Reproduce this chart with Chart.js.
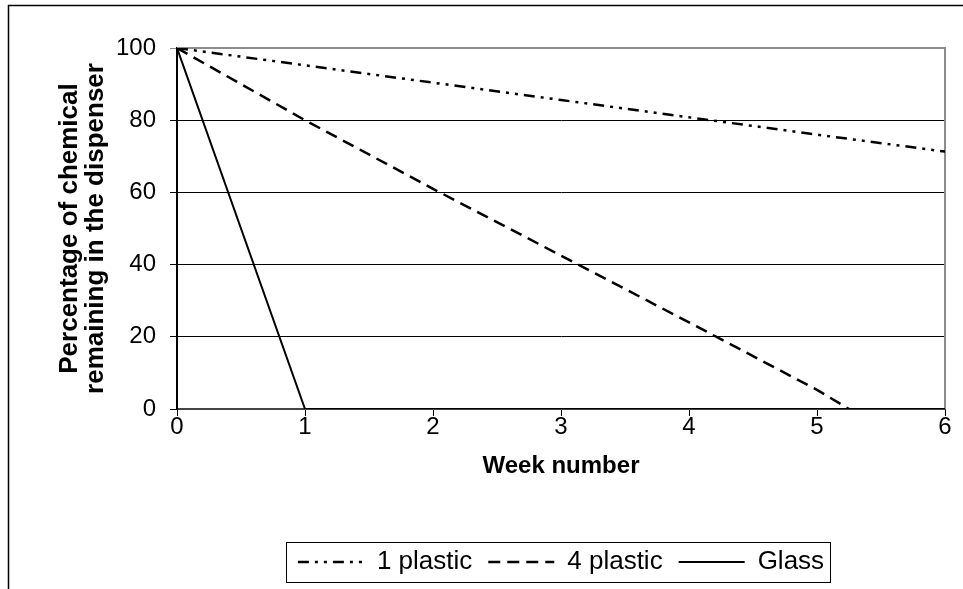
<!DOCTYPE html>
<html>
<head>
<meta charset="utf-8">
<script src="https://cdn.jsdelivr.net/npm/chart.js@4"></script>
<style>
  html, body { margin: 0; padding: 0; background: #fff; }
  #wrap { width: 963px; height: 589px; }
</style>
</head>
<body>
<div id="wrap"><canvas id="chartCanvas" width="963" height="589"></canvas></div>
<script>
// data
const weeks = [0, 1, 2, 3, 4, 5, 6];
const onePlastic = [100, 95.2, 90.4, 85.6, 80.8, 76, 71.3];
const fourWeeks = [0, 1, 2, 3, 4, 5, 5.25];
const fourPlastic = [100, 80, 61, 42.5, 24, 5.3, 0];
const glassWeeks = [0, 1, 6];
const glass = [100, 0, 0];
const yTicks = [0, 20, 40, 60, 80, 100];

const pts = (xs, ys) => xs.map((x, i) => ({x: x, y: ys[i]}));

Chart.defaults.font.family = "'Liberation Sans', Arial, sans-serif";
Chart.defaults.font.size = 24;
Chart.defaults.color = '#000';

// gray top/right frame + outer border + box round the legend
const framePlugin = {
    id: 'frame',
    beforeDatasetsDraw(chart) {
        const {ctx, chartArea: a} = chart;
        ctx.save();
        ctx.strokeStyle = '#8c8c8c';
        ctx.lineWidth = 2;
        ctx.beginPath();
        ctx.moveTo(a.left, a.top);
        ctx.lineTo(a.right, a.top);
        ctx.lineTo(a.right, a.bottom);
        ctx.stroke();
        ctx.restore();
    },
    afterDraw(chart) {
        const ctx = chart.ctx;
        ctx.save();
        ctx.strokeStyle = '#000';
        ctx.lineWidth = 1.5;
        ctx.beginPath();
        ctx.moveTo(8.5, 589);
        ctx.lineTo(8.5, 5.5);
        ctx.lineTo(963, 5.5);
        ctx.stroke();
        const hb = chart.legend.legendHitBoxes;
        if (hb && hb.length) {
            const l = Math.min(...hb.map(b => b.left)) - 12;
            const r = Math.max(...hb.map(b => b.left + b.width)) + 6;
            const t = Math.min(...hb.map(b => b.top)) - 7;
            const bt = Math.max(...hb.map(b => b.top + b.height)) + 7;
            ctx.lineWidth = 1;
            ctx.strokeRect(Math.round(l) + 0.5, Math.round(t) + 0.5, Math.round(r - l), Math.round(bt - t));
        }
        ctx.restore();
    }
};

const data = {
    datasets: [{
        label: '1 plastic',
        data: pts(weeks, onePlastic),
        borderColor: '#000',
        borderWidth: 2.5,
        borderDash: [11, 6, 3, 6, 3, 6],
        pointRadius: 0
    }, {
        label: '4 plastic',
        data: pts(fourWeeks, fourPlastic),
        borderColor: '#000',
        borderWidth: 2.5,
        borderDash: [12, 7],
        pointRadius: 0
    }, {
        label: 'Glass',
        data: pts(glassWeeks, glass),
        borderColor: '#000',
        borderWidth: 2,
        pointRadius: 0
    }]
};

const options = {
    responsive: false,
    animation: false,
    layout: {padding: {left: 0, right: 18, top: 48, bottom: 4}},
    plugins: {
        legend: {
            position: 'bottom',
            fullSize: false,
            labels: {
                usePointStyle: true,
                pointStyle: 'line',
                pointStyleWidth: 66,
                padding: 16,
                color: '#000',
                font: {size: 26},
                generateLabels(chart) {
                    const items = Chart.defaults.plugins.legend.labels.generateLabels(chart);
                    items.forEach(it => {
                        const ds = chart.data.datasets[it.datasetIndex];
                        it.lineDash = ds.borderDash || [];
                        it.lineWidth = ds.borderWidth;
                        it.strokeStyle = '#000';
                    });
                    return items;
                }
            }
        },
        tooltip: {enabled: false}
    },
    scales: {
        x: {
            type: 'linear',
            min: 0,
            max: 6,
            afterFit(s) { s.height = 124; },
            ticks: {stepSize: 1, padding: -3, font: {size: 24}},
            grid: {display: true, drawOnChartArea: false, tickLength: 7, color: '#000'},
            border: {color: '#444', width: 2},
            title: {display: true, text: 'Week number', font: {size: 24, weight: 'bold'}, padding: {top: 0, bottom: 52}}
        },
        y: {
            min: 0,
            max: 100,
            afterFit(s) { s.width = 177; },
            afterBuildTicks(s) { s.ticks = yTicks.map(v => ({value: v})); },
            ticks: {padding: 14, font: {size: 24}},
            grid: {
                tickLength: 7,
                color: ctx => (ctx.tick && ctx.tick.value === 100) ? '#8c8c8c' : '#000'
            },
            border: {color: '#000', width: 2},
            title: {
                display: true,
                text: ['Percentage of chemical', 'remaining in the dispenser'],
                font: {size: 26, weight: 'bold', lineHeight: 1},
                padding: {top: 57, bottom: 0}
            }
        }
    }
};

new Chart(document.getElementById('chartCanvas').getContext('2d'), {
    type: 'line',
    data: data,
    options: options,
    plugins: [framePlugin]
});
</script>
</body>
</html>
